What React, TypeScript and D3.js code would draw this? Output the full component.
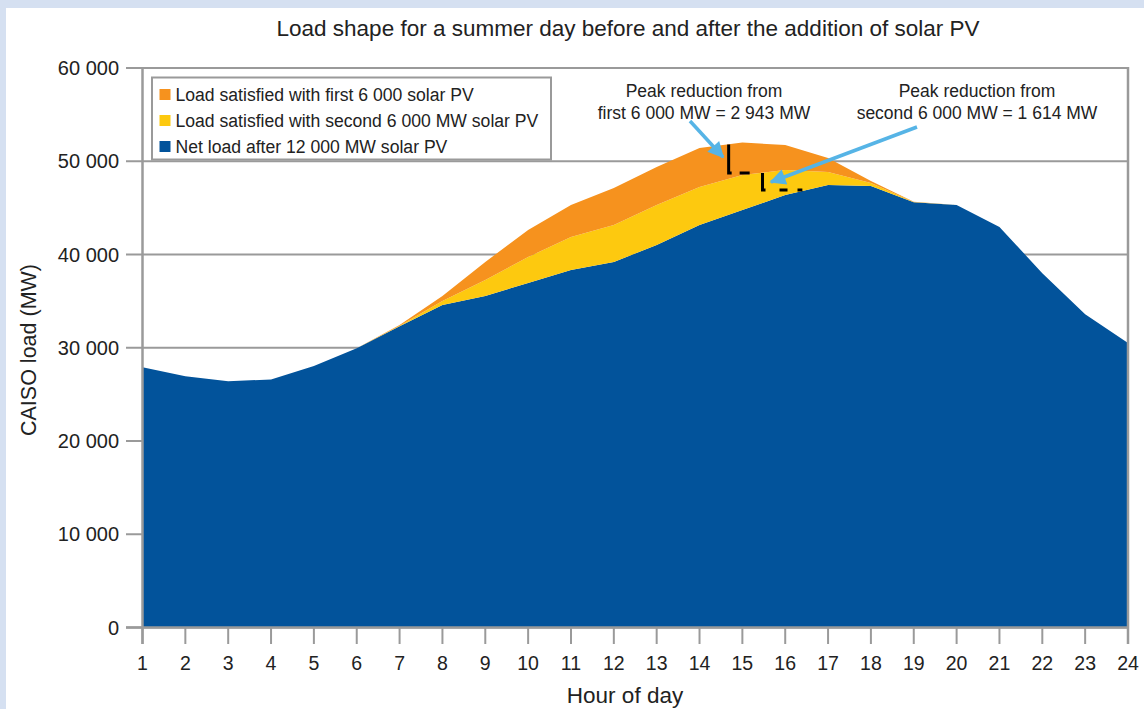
// Summer day load shape before/after solar PV — stacked area chart in D3

import { useEffect, useRef } from "react";
import * as d3 from "d3";

const hours = d3.range(1, 25);
// net load after 12 000 MW of solar PV (MW)
const netLoad = [
  27900, 26950, 26400, 26600, 28050, 29950, 32300, 34580, 35550, 36950, 38340, 39200,
  41020, 43160, 44770, 46380, 47450, 47340, 45600, 45300, 42950, 38000, 33600, 30500,
];
// load met by the second 6 000 MW block
const secondPV = [
  0, 0, 0, 0, 0, 0, 60, 430, 1720, 2780, 3540, 3960,
  4290, 4080, 3760, 2684, 1400, 330, 40, 0, 0, 0, 0, 0,
];
// load met by the first 6 000 MW block
const firstPV = [
  0, 0, 0, 0, 0, 0, 90, 540, 1930, 2900, 3430, 3970,
  4070, 4180, 3476, 2680, 1500, 210, 30, 0, 0, 0, 0, 0,
];
const yTicks = [0, 10000, 20000, 30000, 40000, 50000, 60000];
const seriesKeys = ["net", "second", "first"];
const seriesLabels = [
  "Load satisfied with first 6 000 solar PV",
  "Load satisfied with second 6 000 MW solar PV",
  "Net load after 12 000 MW solar PV",
];
const seriesColors: Record<string, string> = {
  net: "#02539b",
  second: "#fdc90f",
  first: "#f6921e",
};

const FONT = "'Liberation Sans', Arial, Helvetica, sans-serif";
const W = 1144;
const H = 709;

export default function App() {
  const svgRef = useRef<SVGSVGElement>(null);

  useEffect(() => {
    if (!svgRef.current) return;
    const svg = d3.select(svgRef.current);
    svg.selectAll("*").remove();

    const x = d3.scaleLinear().domain([1, 24]).range([142.5, 1128]);
    const y = d3.scaleLinear().domain([0, 60000]).range([627.5, 68]);
    const grey = "#9a9a9a";

    // page background: blue frame with white panel
    svg.append("rect").attr("width", W).attr("height", H).attr("fill", "#d5e0f1");
    svg.append("rect").attr("x", 6).attr("y", 8).attr("width", W - 6).attr("height", H - 8).attr("fill", "#fff");

    const defs = svg.append("defs");
    defs
      .append("marker")
      .attr("id", "arrowhead")
      .attr("viewBox", "0 0 10 10")
      .attr("refX", 9)
      .attr("refY", 5)
      .attr("markerUnits", "userSpaceOnUse")
      .attr("markerWidth", 18)
      .attr("markerHeight", 16)
      .attr("orient", "auto")
      .append("path")
      .attr("d", "M0,0 L10,5 L0,10 Z")
      .attr("fill", "#56b4e6");

    // gridlines (also the 60 000 top frame)
    svg
      .append("g")
      .selectAll("line")
      .data(yTicks)
      .join("line")
      .attr("x1", 126)
      .attr("x2", 1128)
      .attr("y1", (d) => y(d))
      .attr("y2", (d) => y(d))
      .attr("stroke", grey)
      .attr("stroke-width", 2);

    // stacked areas
    const rows = hours.map((h, i) => ({ hour: h, net: netLoad[i], second: secondPV[i], first: firstPV[i] }));
    const stacked = d3.stack<any>().keys(seriesKeys)(rows);
    const area = d3
      .area<any>()
      .x((d) => x(d.data.hour))
      .y0((d) => y(d[0]))
      .y1((d) => y(d[1]));

    svg
      .append("g")
      .selectAll("path")
      .data(stacked)
      .join("path")
      .attr("d", (d) => area(d) || "")
      .attr("fill", (d) => seriesColors[d.key]);

    // axes
    svg.append("line").attr("x1", 142.5).attr("x2", 142.5).attr("y1", 68).attr("y2", 644).attr("stroke", grey).attr("stroke-width", 2.5);
    svg.append("line").attr("x1", 1128).attr("x2", 1128).attr("y1", 67).attr("y2", 644).attr("stroke", grey).attr("stroke-width", 2.5);
    svg.append("line").attr("x1", 126).attr("x2", 1129).attr("y1", y(0)).attr("y2", y(0)).attr("stroke", grey).attr("stroke-width", 2.5);

    svg
      .append("g")
      .selectAll("line")
      .data(hours)
      .join("line")
      .attr("x1", (d) => x(d))
      .attr("x2", (d) => x(d))
      .attr("y1", y(0))
      .attr("y2", 644)
      .attr("stroke", grey)
      .attr("stroke-width", 2);

    const fmt = (v: number) => d3.format(",")(v).replace(/,/g, " ");

    svg
      .append("g")
      .selectAll("text")
      .data(yTicks)
      .join("text")
      .attr("x", 119)
      .attr("y", (d) => y(d))
      .attr("dy", "0.35em")
      .attr("text-anchor", "end")
      .attr("font-family", FONT)
      .attr("font-size", 20)
      .attr("fill", "#222")
      .text((d) => fmt(d));

    svg
      .append("g")
      .selectAll("text")
      .data(hours)
      .join("text")
      .attr("x", (d) => x(d))
      .attr("y", 670)
      .attr("text-anchor", "middle")
      .attr("font-family", FONT)
      .attr("font-size", 19.5)
      .attr("fill", "#222")
      .text((d) => d);

    // titles
    svg.append("text").attr("x", 628).attr("y", 36).attr("text-anchor", "middle")
      .attr("font-family", FONT).attr("font-size", 22.5).attr("fill", "#222")
      .text("Load shape for a summer day before and after the addition of solar PV");
    svg.append("text").attr("x", 625).attr("y", 703).attr("text-anchor", "middle")
      .attr("font-family", FONT).attr("font-size", 22.5).attr("fill", "#222")
      .text("Hour of day");
    svg.append("text").attr("transform", "translate(36,350) rotate(-90)").attr("text-anchor", "middle")
      .attr("font-family", FONT).attr("font-size", 21.5).attr("fill", "#222")
      .text("CAISO load (MW)");

    // legend
    const lg = svg.append("g").attr("transform", "translate(152,77.5)");
    lg.append("rect").attr("width", 399).attr("height", 82).attr("fill", "#fff").attr("stroke", grey).attr("stroke-width", 2);
    const legendKeys = ["first", "second", "net"];
    legendKeys.forEach((k, i) => {
      const cy = 17 + i * 26;
      lg.append("rect").attr("x", 7.5).attr("y", cy - 5.5).attr("width", 11).attr("height", 11).attr("fill", seriesColors[k]);
      lg.append("text").attr("x", 23.5).attr("y", cy).attr("dy", "0.36em")
        .attr("font-family", FONT).attr("font-size", 17.6).attr("fill", "#222")
        .text(seriesLabels[i]);
    });

    // peak reduction markers
    const totals = rows.map((r) => r.net + r.second + r.first);
    const yellowTops = rows.map((r) => r.net + r.second);
    const peakAll = d3.max(totals) as number;
    const peakYellow = d3.max(yellowTops) as number;
    const peakNet = d3.max(netLoad) as number;

    const m1x = x(14.68);
    const m1top = y(peakAll) + 2;
    const m1bot = y(peakYellow) + 3;
    const L1 = m1bot - m1top;
    svg.append("path")
      .attr("d", `M${m1x},${m1top} V${m1bot} H${x(15.5)}`)
      .attr("fill", "none").attr("stroke", "#000").attr("stroke-width", 3)
      .attr("stroke-dasharray", `${L1 + 3} 8 10 200`);

    const m2x = x(15.47);
    const m2top = m1bot;
    const m2bot = y(peakNet) + 5;
    const L2 = m2bot - m2top;
    svg.append("path")
      .attr("d", `M${m2x},${m2top} V${m2bot} H${x(16.4)}`)
      .attr("fill", "none").attr("stroke", "#000").attr("stroke-width", 3)
      .attr("stroke-dasharray", `${L2 + 3} 14 8 10 5 200`);

    // annotations
    const note = (cx: number, lines: string[]) => {
      lines.forEach((t, i) => {
        svg.append("text").attr("x", cx).attr("y", 97 + i * 22).attr("text-anchor", "middle")
          .attr("font-family", FONT).attr("font-size", 17.5).attr("fill", "#222").text(t);
      });
    };
    note(704, ["Peak reduction from", "first 6 000 MW = 2 943 MW"]);
    note(977, ["Peak reduction from", "second 6 000 MW = 1 614 MW"]);

    svg.append("line").attr("x1", 690).attr("y1", 121).attr("x2", 723).attr("y2", 157)
      .attr("stroke", "#56b4e6").attr("stroke-width", 3.5).attr("marker-end", "url(#arrowhead)");
    svg.append("line").attr("x1", 917).attr("y1", 127).attr("x2", 771).attr("y2", 182)
      .attr("stroke", "#56b4e6").attr("stroke-width", 3.5).attr("marker-end", "url(#arrowhead)");
  }, []);

  return (
    <svg
      ref={svgRef}
      width={W}
      height={H}
      style={{ position: "absolute", left: 0, top: 0, display: "block" }}
    />
  );
}
